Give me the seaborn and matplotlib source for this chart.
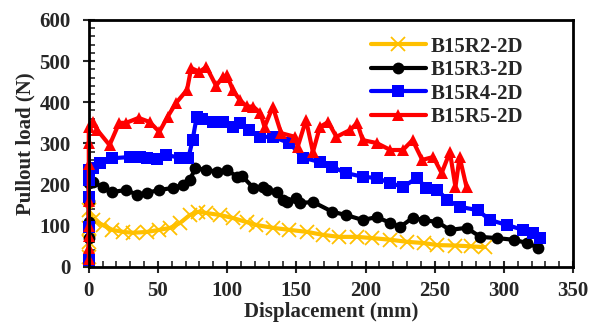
"""
Pullout load vs displacement for the B15 series (2D embedment).
"""

import matplotlib.pyplot as plt
import seaborn as sns
from matplotlib.ticker import MultipleLocator

# ==========================================================
# Data
# ==========================================================

R2_X = [0, 0, 0, 0, 3, 10, 17, 25, 32, 42, 51, 59, 66, 73, 79, 85, 95, 104,
        114, 121, 133, 145, 158, 169, 181, 194, 205, 218, 230, 242, 252, 265,
        276, 286]
R2_Y = [25, 60, 95, 138, 114, 102, 90, 85, 83, 85, 90, 95, 107, 126, 134, 131,
        126, 119, 109, 102, 95, 90, 85, 78, 73, 73, 70, 66, 61, 58, 53, 52,
        50, 48]

R3_X = [0, 0, 0, 0, 3, 10, 17, 27, 35, 42, 51, 61, 68, 73, 77, 85, 93, 100,
        107, 111, 119, 126, 129, 136, 140, 143, 150, 153, 162, 176, 186, 198,
        208, 218, 225, 234, 242, 252, 261, 273, 283, 295, 307, 317, 325]
R3_Y = [70, 110, 160, 204, 206, 194, 182, 187, 175, 180, 187, 192, 199, 211,
        240, 236, 231, 236, 219, 220, 192, 194, 187, 182, 163, 158, 168, 155,
        158, 134, 126, 114, 121, 107, 97, 119, 114, 109, 90, 95, 73, 70, 66,
        58, 46]

R4_X = [0, 0, 0, 0, 0, 3, 8, 17, 30, 37, 42, 49, 56, 66, 72, 75, 78, 82, 90,
        97, 104, 109, 116, 124, 133, 145, 155, 167, 176, 186, 198, 208, 218,
        227, 237, 244, 252, 259, 268, 281, 290, 302, 314, 321, 326]
R4_Y = [17, 97, 170, 211, 236, 240, 252, 264, 267, 267, 264, 262, 272, 265,
        265, 308, 365, 360, 352, 352, 340, 350, 333, 316, 316, 301, 265, 255,
        243, 228, 219, 216, 204, 194, 216, 192, 187, 163, 146, 138, 114, 102,
        90, 83, 70]

R5_X = [0, 0, 0, 0, 0, 0, 0, 0, 3, 6, 15, 22, 27, 36, 44, 51, 57, 63, 71, 74,
        80, 85, 92, 97, 100, 104, 109, 114, 119, 124, 127, 133, 139, 149, 151,
        157, 162, 167, 173, 179, 189, 194, 198, 208, 218, 227, 234, 241, 249,
        255, 261, 265, 268, 273]
R5_Y = [20, 45, 75, 100, 160, 250, 300, 340, 352, 333, 296, 350, 350, 362,
        352, 328, 365, 398, 430, 483, 474, 486, 440, 462, 466, 430, 406, 390,
        389, 374, 340, 389, 325, 316, 292, 357, 279, 340, 352, 316, 333, 350,
        308, 301, 284, 284, 308, 260, 267, 228, 279, 194, 267, 194]

X_TICKS = [0, 50, 100, 150, 200, 250, 300, 350]
Y_TICKS = [0, 100, 200, 300, 400, 500, 600]

# ==========================================================
# Plot Style
# ==========================================================

sns.set_theme(style="white")
plt.rcParams["font.family"] = ["Liberation Serif", "DejaVu Serif"]
plt.rcParams["font.weight"] = "bold"

FONT_SIZE = 15

SERIES = [
    ("B15R2-2D", R2_X, R2_Y, "#FFC000", "x", 10),
    ("B15R3-2D", R3_X, R3_Y, "black", "o", 8.5),
    ("B15R4-2D", R4_X, R4_Y, "#0000FF", "s", 8.5),
    ("B15R5-2D", R5_X, R5_Y, "#FF0000", "^", 9),
]


def main() -> None:
    fig, ax = plt.subplots(figsize=(5.92, 3.32), dpi=100)
    fig.subplots_adjust(left=0.150, right=0.968, bottom=0.196, top=0.940)

    for label, xs, ys, color, marker, size in SERIES:
        sns.lineplot(
            x=xs,
            y=ys,
            ax=ax,
            sort=False,
            estimator=None,
            color=color,
            linewidth=3,
            marker=marker,
            markersize=size,
            markeredgewidth=1.3 if marker == "x" else 0,
            markeredgecolor=color,
            label=label,
            clip_on=False,
        )

    ax.set_xlim(0, 350)
    ax.set_ylim(0, 600)
    ax.set_xticks(X_TICKS)
    ax.set_yticks(Y_TICKS)
    ax.xaxis.set_minor_locator(MultipleLocator(10))
    ax.yaxis.set_minor_locator(MultipleLocator(20))

    ax.tick_params(which="major", direction="inout", length=8, width=1.5,
                   labelsize=FONT_SIZE, bottom=True, left=True)
    ax.tick_params(axis="x", which="major", pad=6)
    ax.tick_params(axis="y", which="major", pad=9)
    ax.tick_params(which="minor", direction="in", length=4, width=1.2,
                   bottom=True, left=True)
    for lbl in ax.get_xticklabels() + ax.get_yticklabels():
        lbl.set_fontweight("bold")

    for spine in ax.spines.values():
        spine.set_color("black")
        spine.set_linewidth(2)

    ax.set_xlabel("Displacement (mm)", fontsize=FONT_SIZE, fontweight="bold",
                  labelpad=1)
    ax.set_ylabel("Pullout load (N)", fontsize=FONT_SIZE, fontweight="bold",
                  labelpad=3)

    ax.legend(
        loc="upper left",
        bbox_to_anchor=(0.561, 0.975),
        frameon=False,
        borderpad=0,
        handlelength=2.65,
        handletextpad=0.2,
        labelspacing=0.17,
        prop={"weight": "bold", "size": FONT_SIZE},
    )

    fig.savefig("out.png", dpi=100)
    plt.close(fig)


if __name__ == "__main__":
    main()
